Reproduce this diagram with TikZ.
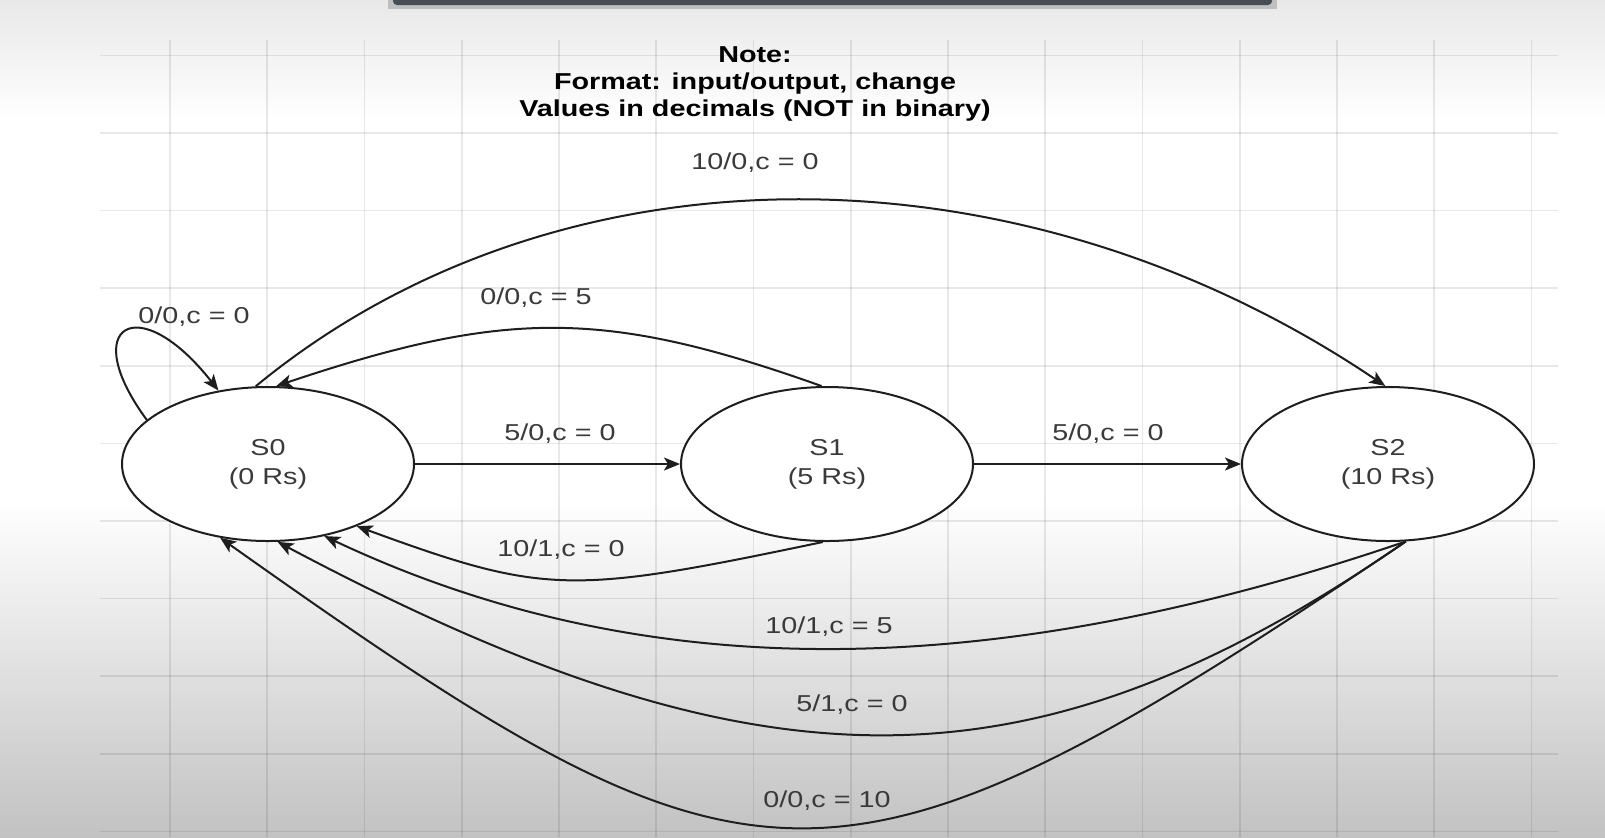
\documentclass[tikz,border=0pt]{standalone}
\usepackage{fontspec}
\setmainfont{Liberation Sans}[FakeStretch=1.25]
\usepackage{tikz}
\usetikzlibrary{arrows.meta,shapes.geometric}
\definecolor{inkline}{HTML}{1E1E1E}
\definecolor{textgray}{HTML}{3A3A3A}
\definecolor{topbar}{HTML}{474C55}
\definecolor{fadegray}{HTML}{C2C2C2}
\tikzset{
  statebox/.style={
    ellipse, draw=inkline, fill=white, line width=1pt,
    minimum width=146pt, minimum height=77pt, inner sep=0pt,
    font=\fontsize{11.5}{14.5}\selectfont, text=textgray, align=center
  },
  transarrow/.style={
    -{Stealth[length=8pt,width=6.5pt,inset=2pt]}, draw=inkline, line width=1pt
  },
  translabel/.style={font=\fontsize{11.5}{14}\selectfont, text=textgray, inner sep=1pt},
  notebox/.style={font=\fontsize{11.5}{13.5}\selectfont\bfseries, align=center, inner sep=0pt},
  gridrule/.style={draw=black, opacity=0.09, line width=0.8pt},
}
\begin{document}
\begin{tikzpicture}[x=0.5pt, y=-0.5pt]
\useasboundingbox (0,0) rectangle (1605,837);
\fill[white] (0,0) rectangle (1605,837);
\shade[top color=black!9, bottom color=white] (0,0) rectangle (1605,120);
\shade[top color=white, bottom color=fadegray] (0,500) rectangle (1605,837);
\begin{scope}
  \clip (100,40) rectangle (1558,837);
  \foreach \gx in {0,...,14}
    \draw[gridrule] ({170+97.25*\gx},40) -- ({170+97.25*\gx},837);
  \foreach \gy in {0,...,10}
    \draw[gridrule] (100,{55.4+77.6*\gy}) -- (1558,{55.4+77.6*\gy});
\end{scope}
\fill[black!25] (388,0) rectangle (1277,9);
\fill[topbar, rounded corners=2pt] (393,-4) rectangle (1272,5);

\node[notebox] (note) at (755,84) {Note:\\Format: input/output, change\\Values in decimals (NOT in binary)};

\node[statebox] (S0) at (268,464) {S0\\(0 Rs)};
\node[statebox] (S1) at (827,464) {S1\\(5 Rs)};
\node[statebox] (S2) at (1388,464) {S2\\(10 Rs)};

\draw[transarrow] (S0.160) .. controls +(-70,-95) and +(-80,-102) .. (S0.124);
\draw[transarrow] (S0.99) .. controls (557,138) and (1018,138) .. (S2.92);
\draw[transarrow] (S1.94) .. controls (605,309) and (506,309) .. (S0.84);
\draw[transarrow] (S0.east) -- (S1.west);
\draw[transarrow] (S1.east) -- (S2.west);
\draw[transarrow] (S1.-93) .. controls (570,595) and (545,595) .. (S0.-35);
\draw[transarrow] (S2.-77) .. controls (985,685) and (640,685) .. (S0.-52);
\draw[transarrow] (S2.-77) .. controls (1032,799) and (762,799) .. (S0.-83);
\draw[transarrow] (S2.-77) .. controls (830,930) and (755,917) .. (S0.-123);

\node[translabel] (lloop) at (194,317) {0/0,c = 0};
\node[translabel] (l100) at (755,163) {10/0,c = 0};
\node[translabel] (l005) at (536,298) {0/0,c = 5};
\node[translabel] (l050a) at (560,434) {5/0,c = 0};
\node[translabel] (l050b) at (1108,434) {5/0,c = 0};
\node[translabel] (l101) at (561,550) {10/1,c = 0};
\node[translabel] (l105) at (829,627) {10/1,c = 5};
\node[translabel] (l051) at (852,705) {5/1,c = 0};
\node[translabel] (l0010) at (827,801) {0/0,c = 10};
\end{tikzpicture}
\end{document}
